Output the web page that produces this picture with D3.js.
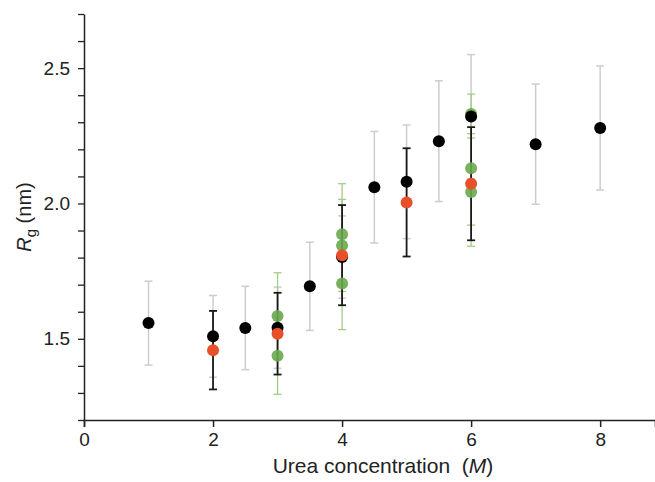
<!DOCTYPE html>
<html>
<head>
<meta charset="utf-8">
<script src="https://cdn.jsdelivr.net/npm/d3@7"></script>
<style>
body { margin: 0; background: #fff; }
text { font-family: "Liberation Sans", Arial, sans-serif; fill: #222; }
</style>
</head>
<body>
<svg width="655" height="482"></svg>
<script>
// black series (light gray error bars)
var blackX = [1, 2, 2.5, 3, 3.5, 4, 4.5, 5, 5.5, 6, 7, 8];
var blackY = [1.558, 1.509, 1.540, 1.541, 1.694, 1.802, 2.060, 2.080, 2.230, 2.321, 2.219, 2.279];
var blackErr = [0.155, 0.151, 0.154, 0.15, 0.163, 0.152, 0.206, 0.21, 0.223, 0.229, 0.222, 0.229];

// red series (black error bars)
var redX = [2, 3, 4, 5, 6];
var redY = [1.458, 1.519, 1.809, 2.004, 2.073];
var redErr = [0.145, 0.151, 0.185, 0.2, 0.209];

// green series
var greenX = [3, 3, 4, 4, 4, 6, 6, 6];
var greenY = [1.584, 1.437, 1.886, 1.845, 1.704, 2.331, 2.130, 2.042];
var greenErr = [0.16, 0.142, 0.187, 0.17, 0.17, 0.073, 0.21, 0.2];

var xTicks = [0, 2, 4, 6, 8];
var yTicks = [1.5, 2.0, 2.5];

var svg = d3.select("svg");

var x = d3.scaleLinear().domain([0, 8.85]).range([84, 655]);
var y = d3.scaleLinear().domain([1.2, 2.7]).range([420, 14]);

function zip(xs, ys, es) {
  return xs.map(function (d, i) { return { x: d, y: ys[i], e: es[i] }; });
}
var black = zip(blackX, blackY, blackErr),
  red = zip(redX, redY, redErr),
  green = zip(greenX, greenY, greenErr);

// axes
var xAxis = svg.append("g")
  .attr("transform", "translate(0,420)")
  .call(d3.axisBottom(x).tickValues(xTicks).tickFormat(d3.format("d")).tickSize(7).tickPadding(6));
xAxis.select(".domain").attr("stroke", "#222").attr("stroke-width", 1.5);
xAxis.selectAll(".tick line").attr("stroke", "#222").attr("stroke-width", 1.5);
xAxis.selectAll("text").style("font-size", "19px").attr("fill", "#222")
  .style("font-family", "Liberation Sans, Arial, sans-serif");

var yAxis = svg.append("g")
  .attr("transform", "translate(84,0)")
  .call(d3.axisLeft(y).tickValues(d3.range(12, 28).map(function (d) { return d / 10; }))
    .tickFormat(function (d) {
      return yTicks.some(function (t) { return Math.abs(t - d) < 1e-6; }) ? d3.format(".1f")(d) : "";
    })
    .tickSize(6).tickPadding(8).tickSizeOuter(0));
yAxis.select(".domain").attr("stroke", "#222").attr("stroke-width", 1.5);
yAxis.selectAll(".tick line").attr("stroke", "#222").attr("stroke-width", 1.3);
yAxis.selectAll("text").style("font-size", "19px").attr("fill", "#222")
  .style("font-family", "Liberation Sans, Arial, sans-serif");

// axis titles
var xt = svg.append("text")
  .attr("x", 383).attr("y", 473)
  .attr("text-anchor", "middle")
  .style("font-size", "21px")
  .attr("xml:space", "preserve");
xt.append("tspan").text("Urea concentration  (");
xt.append("tspan").style("font-style", "italic").text("M");
xt.append("tspan").text(")");

var yt = svg.append("text")
  .attr("transform", "translate(31,217) rotate(-90)")
  .attr("text-anchor", "middle")
  .style("font-size", "20px");
yt.append("tspan").style("font-style", "italic").text("R");
yt.append("tspan").attr("dy", 5).style("font-size", "15px").text("g");
yt.append("tspan").attr("dy", -5).text(" (nm)");

// error bars
function errorBars(data, color, width, cap) {
  var g = svg.append("g").attr("stroke", color).attr("stroke-width", width);
  g.selectAll(".v").data(data).enter().append("line")
    .attr("x1", function (d) { return x(d.x); })
    .attr("x2", function (d) { return x(d.x); })
    .attr("y1", function (d) { return y(d.y - d.e); })
    .attr("y2", function (d) { return y(d.y + d.e); });
  [-1, 1].forEach(function (s) {
    g.selectAll(".c" + s).data(data).enter().append("line")
      .attr("x1", function (d) { return x(d.x) - cap; })
      .attr("x2", function (d) { return x(d.x) + cap; })
      .attr("y1", function (d) { return y(d.y + s * d.e); })
      .attr("y2", function (d) { return y(d.y + s * d.e); });
  });
}

errorBars(black, "#cdcdcd", 1.5, 4);
errorBars(green, "#a3cc86", 1.3, 4);
errorBars(red, "#1a1a1a", 1.8, 4);

function dots(data, color, opacity) {
  svg.append("g").selectAll("circle").data(data).enter().append("circle")
    .attr("cx", function (d) { return x(d.x); })
    .attr("cy", function (d) { return y(d.y); })
    .attr("r", 6)
    .attr("fill", color)
    .attr("fill-opacity", opacity);
}

dots(green, "#6aa84f", 0.9);
dots(black, "#000", 1);
dots(red, "#e8502a", 1);
</script>
</body>
</html>
